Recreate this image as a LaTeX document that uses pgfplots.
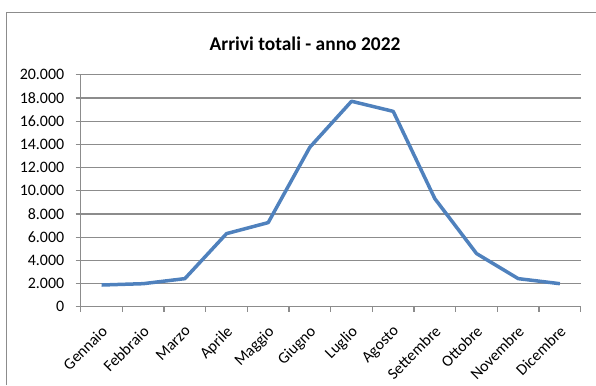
\documentclass[border=0pt]{standalone}
\usepackage{fontspec}
\setmainfont{Carlito}
\usepackage{pgfplots}
\pgfplotsset{compat=1.18}
\definecolor{gridgray}{RGB}{140,140,140}
\definecolor{framegray}{RGB}{140,140,140}
\definecolor{lineblue}{RGB}{79,129,189}
\begin{document}
\begin{tikzpicture}[x=1bp,y=1bp]
\path[use as bounding box] (-80.7,-78.3) rectangle (515.3,306.7);
\draw[framegray, line width=1.2bp] (-74,-78.3) -- (-74,294) -- (515.3,294);
\node[font=\fontsize{19.5}{23}\selectfont\bfseries] at (224.3,263.4) {Arrivi totali - anno 2022};
\begin{axis}[
  at={(0,0)}, anchor=south west,
  scale only axis, width=500bp, height=232bp,
  xmin=-0.5, xmax=11.5, ymin=0, ymax=20000,
  axis lines=left,
  axis line style={-, draw=gridgray, line width=1.2bp},
  tick align=outside,
  major tick length=5bp,
  tick style={draw=gridgray, line width=1.2bp},
  xtick={-0.5,0.5,1.5,2.5,3.5,4.5,5.5,6.5,7.5,8.5,9.5,10.5,11.5},
  xticklabels={},
  extra x ticks={0,1,2,3,4,5,6,7,8,9,10,11},
  extra x tick labels={Gennaio,Febbraio,Marzo,Aprile,Maggio,Giugno,Luglio,Agosto,Settembre,Ottobre,Novembre,Dicembre},
  extra x tick style={major tick length=0pt,
    xticklabel style={rotate=45, anchor=north east, xshift=-10bp, yshift=-8.5bp, font=\fontsize{16}{19}\selectfont}},
  ytick={0,2000,4000,6000,8000,10000,12000,14000,16000,18000,20000},
  scaled y ticks=false,
  yticklabel style={xshift=-8bp, font=\fontsize{16}{19}\selectfont, /pgf/number format/.cd, assume math mode=true, 1000 sep={.}},
  ymajorgrids,
  major grid style={draw=gridgray, line width=1.2bp},
  clip=false,
]
\addplot[lineblue, line width=3.5bp, line join=round, mark=none] coordinates {
  (0,1870) (1,1985) (2,2420) (3,6300) (4,7250) (5,13750)
  (6,17710) (7,16840) (8,9310) (9,4580) (10,2420) (11,1985)
};
\end{axis}
\end{tikzpicture}
\end{document}
